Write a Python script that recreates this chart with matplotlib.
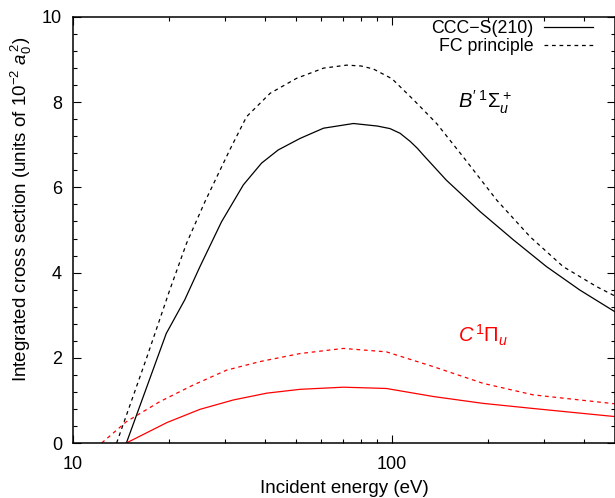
import numpy as np
import matplotlib
matplotlib.use("Agg")
import matplotlib.pyplot as plt
from matplotlib.ticker import FixedLocator, NullFormatter, MultipleLocator

plt.rcParams['font.family'] = ['Liberation Sans', 'DejaVu Sans']
plt.rcParams['mathtext.fontset'] = 'custom'
plt.rcParams['mathtext.rm'] = 'Liberation Sans'
plt.rcParams['mathtext.it'] = 'Liberation Sans:italic'

# B' 1Sigma_u+ , CCC-S(210)
e_b_ccc = [14.7, 19.6, 22.4, 25.0, 29.2, 34.2, 39.0, 44.0, 51.5, 61.0, 75.7, 90.0,
           98.6, 106, 114, 120, 125, 148, 189, 240, 305, 388, 500]
s_b_ccc = [0, 2.57, 3.36, 4.14, 5.19, 6.06, 6.57, 6.88, 7.15, 7.39, 7.50, 7.44,
           7.38, 7.27, 7.08, 6.92, 6.77, 6.17, 5.43, 4.77, 4.14, 3.59, 3.08]
# B' FC principle
e_b_fc = [13.7, 17.0, 20.1, 22.7, 25.9, 31.0, 35.0, 41.5, 50.2, 61, 72.1, 80,
          87.4, 100, 117, 138, 167, 213, 271, 344, 438, 500]
s_b_fc = [0, 1.99, 3.59, 4.69, 5.66, 6.88, 7.66, 8.21, 8.56, 8.80, 8.87, 8.85,
          8.78, 8.55, 8.05, 7.50, 6.72, 5.70, 4.84, 4.14, 3.67, 3.45]
# C 1Pi_u , CCC-S(210)
e_c_ccc = [14.7, 19.7, 25.0, 31.8, 40.5, 51.5, 70.4, 96, 135, 193, 277, 500]
s_c_ccc = [0, 0.48, 0.79, 1.01, 1.17, 1.26, 1.31, 1.28, 1.09, 0.93, 0.81, 0.62]
# C FC principle
e_c_fc = [12.3, 14.7, 18.7, 23.8, 30.3, 38.5, 51.5, 70.4, 96, 135, 193, 277, 500]
s_c_fc = [0, 0.50, 0.97, 1.36, 1.71, 1.91, 2.10, 2.22, 2.14, 1.79, 1.40, 1.13, 0.92]

fig = plt.figure(figsize=(6.15, 4.98), dpi=100)
ax = fig.add_axes([73/615, 55/498, 542/615, 426/498])

lw = 0.9
ax.plot(e_b_ccc, s_b_ccc, color='black', lw=lw, label='CCC\u2212S(210)')
ax.plot(e_b_fc, s_b_fc, color='black', lw=lw, dashes=(3, 3), label='FC principle')
ax.plot(e_c_ccc, s_c_ccc, color='red', lw=lw)
ax.plot(e_c_fc, s_c_fc, color='red', lw=lw, dashes=(3, 3))

ax.set_xscale('log')
ax.set_xlim(10, 500)
ax.set_ylim(0, 10)
ax.xaxis.set_major_locator(FixedLocator([10, 100]))
ax.xaxis.set_major_formatter(matplotlib.ticker.FixedFormatter(['10', '100']))
ax.xaxis.set_minor_locator(FixedLocator([20, 30, 40, 50, 60, 70, 80, 90, 200, 300, 400]))
ax.xaxis.set_minor_formatter(NullFormatter())
ax.yaxis.set_major_locator(MultipleLocator(2))
ax.yaxis.set_minor_locator(MultipleLocator(0.4))

ax.tick_params(which='both', direction='in', top=True, right=True, labelsize=13)
ax.tick_params(which='major', length=6, width=0.8)
ax.tick_params(which='minor', length=3, width=0.8)
ax.tick_params(axis='x', which='major', pad=9)
ax.tick_params(axis='y', which='major', pad=8)
for sp in ax.spines.values():
    sp.set_linewidth(1.1)

ax.set_xlabel('Incident energy (eV)', fontsize=13.5)
ax.xaxis.set_label_coords(0.5, -0.086)
ax.set_ylabel('Integrated cross section (units of $10^{-2}\\ a_0^{\\,2}$)', fontsize=13.5)
ax.yaxis.set_label_coords(-0.072, 0.549)

ax.text(161, 7.86, "$B'\\,^{1}\\Sigma_u^+$", fontsize=14.5, va='baseline', ha='left')
ax.text(161, 2.35, "$C\\,^{1}\\Pi_u$", fontsize=14.5, va='baseline', ha='left', color='red')

ax.legend(loc='upper right', bbox_to_anchor=(0.959, 0.992), frameon=False, markerfirst=False,
          fontsize=12.8, handlelength=2.75, handletextpad=0.6, labelspacing=0.05,
          borderpad=0, borderaxespad=0)

fig.savefig('out.png', dpi=100)
